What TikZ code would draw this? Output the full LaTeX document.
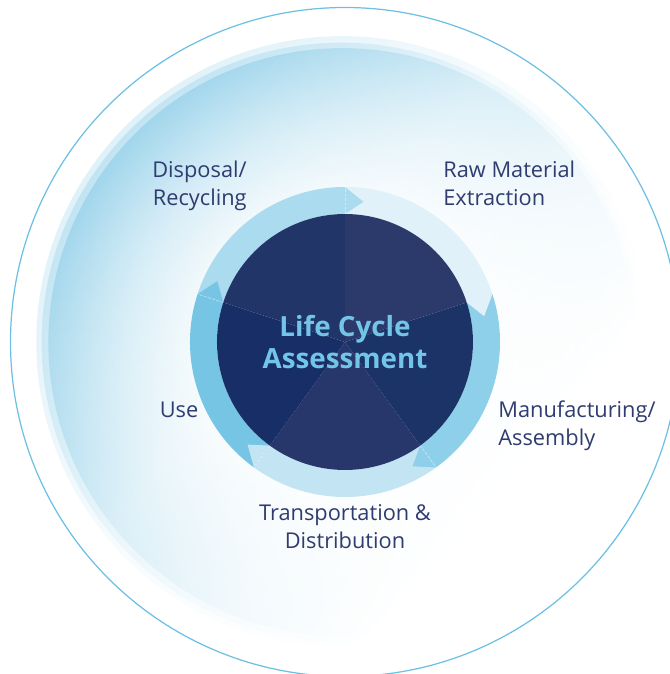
\documentclass[tikz,border=0pt]{standalone}
\usepackage{fontspec}
\setmainfont{Open Sans}
\usepackage{xcolor}
\usetikzlibrary{fadings}

\definecolor{labelnavy}{HTML}{2F3C70}
\definecolor{titleblue}{HTML}{72C5E6}
\definecolor{rimblue}{HTML}{6CC0E4}
\definecolor{glowblue}{HTML}{8CCDE8}
\definecolor{rawring}{HTML}{E1F1F9}
\definecolor{manring}{HTML}{8ECFE9}
\definecolor{transring}{HTML}{C3E5F3}
\definecolor{usering}{HTML}{77C5E5}
\definecolor{dispring}{HTML}{AADBEF}
\definecolor{rawdisk}{HTML}{2C3A6B}
\definecolor{mandisk}{HTML}{1B3367}
\definecolor{transdisk}{HTML}{27366B}
\definecolor{usedisk}{HTML}{172F66}
\definecolor{dispdisk}{HTML}{213568}

\pgfdeclareradialshading{glowfull}{\pgfpointorigin}{color(0bp)=(white); color(9bp)=(white); color(18bp)=(glowblue!50); color(25bp)=(glowblue); color(50bp)=(glowblue)}
\pgfdeclareradialshading{glowmid}{\pgfpointorigin}{color(0bp)=(white); color(9bp)=(white); color(18bp)=(glowblue!35); color(25bp)=(glowblue!70); color(50bp)=(glowblue!70)}
\pgfdeclareradialshading{glowout}{\pgfpointorigin}{color(0bp)=(white); color(9bp)=(white); color(18bp)=(glowblue!21); color(25bp)=(glowblue!45); color(50bp)=(glowblue!45)}
\pgfdeclarehorizontalshading{glowmask}{100bp}{color(0bp)=(white); color(10bp)=(white); color(25bp)=(white!62!black); color(45bp)=(white!18!black); color(57bp)=(white!6!black); color(68bp)=(black); color(100bp)=(black)}
\pgfdeclarefading{glowfade}{\pgfuseshading{glowmask}}

\tikzset{
    lbl/.style={text=labelnavy, font=\fontsize{12.4}{15.8}\selectfont, inner sep=0pt},
    title/.style={text=titleblue, font=\fontsize{15.8}{18.6}\selectfont\bfseries, inner sep=0pt, align=center},
    glow/.style={path fading=glowfade, fading angle=-40},
    divider/.style={white, opacity=0.45, line width=0.4pt, dash pattern=on 1.5pt off 1pt}
}

\begin{document}
\begin{tikzpicture}[x=0.02cm, y=0.02cm]

\useasboundingbox (-345,-332) rectangle (325,342);
\clip (-345,-332) rectangle (325,342);

% Background
\draw[rimblue, line width=0.7pt] (0,0) circle[radius=334.5];
\shade[shading=glowout, glow] (0,0) circle[radius=307];
\shade[shading=glowmid, glow] (0,0) circle[radius=301];
\shade[shading=glowfull, glow] (0,0) circle[radius=295];

% Ring
\fill[rawring] (90:128) arc[start angle=90, end angle=18, radius=128] -- (18:155) arc[start angle=18, end angle=90, radius=155] -- cycle;
\fill[manring] (18:128) arc[start angle=18, end angle=-54, radius=128] -- (-54:155) arc[start angle=-54, end angle=18, radius=155] -- cycle;
\fill[transring] (-54:128) arc[start angle=-54, end angle=-126, radius=128] -- (-126:155) arc[start angle=-126, end angle=-54, radius=155] -- cycle;
\fill[usering] (-126:128) arc[start angle=-126, end angle=-198, radius=128] -- (-198:155) arc[start angle=-198, end angle=-126, radius=155] -- cycle;
\fill[dispring] (162:128) arc[start angle=162, end angle=90, radius=128] -- (90:155) arc[start angle=90, end angle=162, radius=155] -- cycle;

% Arrow heads
\fill[rawring] (18:128) -- (18:155) -- (10.5:141.5) -- cycle;
\fill[manring] (-54:128) -- (-54:155) -- (-61.5:141.5) -- cycle;
\fill[transring] (-126:128) -- (-126:155) -- (-133.5:141.5) -- cycle;
\fill[usering] (162:128) -- (162:155) -- (154.5:141.5) -- cycle;
\fill[dispring] (90:128) -- (90:155) -- (82.5:141.5) -- cycle;

\draw[divider] (90:128) -- (90:155);
\draw[divider] (18:128) -- (18:155);
\draw[divider] (-54:128) -- (-54:155);
\draw[divider] (-126:128) -- (-126:155);
\draw[divider] (162:128) -- (162:155);

% Disk
\fill[rawdisk] (0,0) -- (90:128) arc[start angle=90, end angle=18, radius=128] -- cycle;
\fill[mandisk] (0,0) -- (18:128) arc[start angle=18, end angle=-54, radius=128] -- cycle;
\fill[transdisk] (0,0) -- (-54:128) arc[start angle=-54, end angle=-126, radius=128] -- cycle;
\fill[usedisk] (0,0) -- (-126:128) arc[start angle=-126, end angle=-198, radius=128] -- cycle;
\fill[dispdisk] (0,0) -- (162:128) arc[start angle=162, end angle=90, radius=128] -- cycle;

% Labels
\node[title] (lca) at (0,0) {Life Cycle\\Assessment};
\node[lbl, align=left, anchor=west] (raw) at (98,159) {Raw Material\\Extraction};
\node[lbl, align=left, anchor=west] (manu) at (153,-84) {Manufacturing/\\Assembly};
\node[lbl, align=center] (trans) at (0,-184.5) {Transportation \&\\Distribution};
\node[lbl] (use) at (-166,-67.5) {Use};
\node[lbl, align=right, anchor=east] (disp) at (-98,156) {Disposal/\\Recycling};

\end{tikzpicture}
\end{document}
